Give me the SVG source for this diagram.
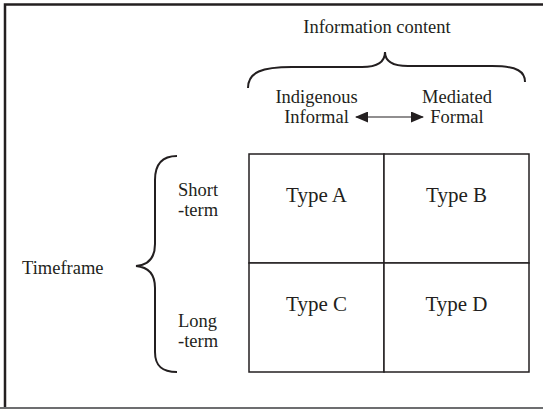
<svg xmlns="http://www.w3.org/2000/svg" width="543" height="409" viewBox="0 0 543 409">
<defs>
<style>
.t{font-family:"Liberation Serif","Times New Roman",serif;font-size:18.5px;fill:#231f20}
.ty{font-family:"Liberation Serif","Times New Roman",serif;font-size:21px;fill:#231f20;text-anchor:middle}
.br{fill:none;stroke:#231f20;stroke-width:2}
.cell{fill:#fff;stroke:#231f20;stroke-width:1.5}
</style>
<marker id="ah" viewBox="0 0 13 11" refX="12" refY="5.5" markerWidth="13" markerHeight="11" markerUnits="userSpaceOnUse" orient="auto-start-reverse">
<path d="M0,0 L13,5.5 L0,11 Z" fill="#231f20"/>
</marker>
</defs>
<rect width="543" height="409" fill="#fff"/>
<g id="frame">
<path d="M5,409 L5,4.5 L543,4.5" fill="none" stroke="#231f20" stroke-width="2.5"/>
<line x1="0" y1="408" x2="543" y2="408" stroke="#6d6e70" stroke-width="2"/>
</g>
<g id="header">
<text class="t" x="377" y="33" text-anchor="middle">Information content</text>
<path class="br" d="M248,88 C248,72 262,67 292,67 L362,67 C378,67 385,61 385,52 C385,61 392,66 408,66 L492,66 C518,66 525,72 525,82"/>
<text class="t" x="316.5" y="103" text-anchor="middle">Indigenous</text>
<text class="t" x="316.5" y="123" text-anchor="middle">Informal</text>
<text class="t" x="457" y="103" text-anchor="middle">Mediated</text>
<text class="t" x="457" y="123" text-anchor="middle">Formal</text>
</g>
<g id="connectors">
<line x1="356" y1="117" x2="423" y2="117" stroke="#231f20" stroke-width="1.2" marker-start="url(#ah)" marker-end="url(#ah)"/>
</g>
<g id="side">
<text class="t" x="22" y="274">Timeframe</text>
<path class="br" d="M177,156 C162,156 155,165 155,180 L155,244 C155,258 148,265 136,266 C148,267 155,274 155,288 L155,352 C155,366 162,372 177,372"/>
<text class="t" x="178" y="196">Short</text>
<text class="t" x="178" y="216">-term</text>
<text class="t" x="178" y="327">Long</text>
<text class="t" x="178" y="347">-term</text>
</g>
<g id="typeA"><rect class="cell" x="249" y="154" width="135" height="109"/><text class="ty" x="316.5" y="202">Type A</text></g>
<g id="typeB"><rect class="cell" x="384" y="154" width="145" height="109"/><text class="ty" x="456.5" y="202">Type B</text></g>
<g id="typeC"><rect class="cell" x="249" y="263" width="135" height="109"/><text class="ty" x="316.5" y="311">Type C</text></g>
<g id="typeD"><rect class="cell" x="384" y="263" width="145" height="109"/><text class="ty" x="456.5" y="311">Type D</text></g>
</svg>
